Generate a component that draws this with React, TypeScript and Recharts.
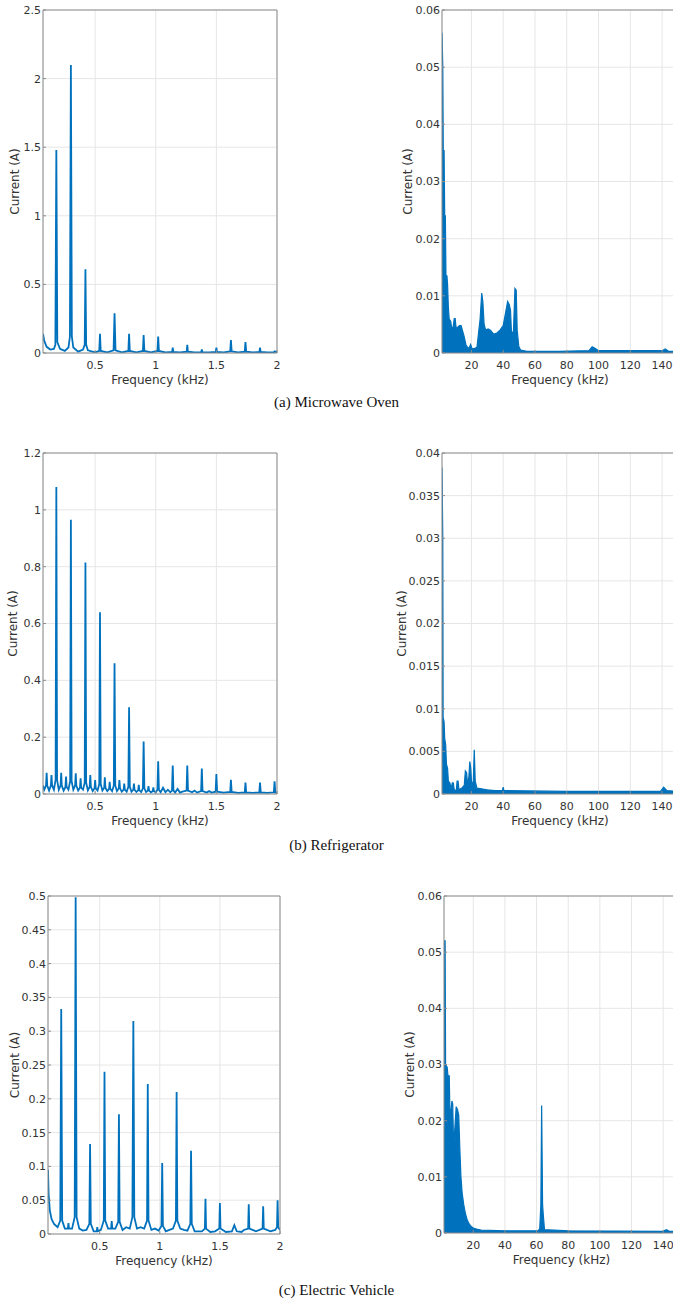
import React from "react";
import { LineChart, AreaChart, Line, Area, XAxis, YAxis, CartesianGrid } from "recharts";

type Pt = [number, number];

const LOW_TICKS = [0.5, 1, 1.5, 2];
const HIGH_TICKS = [20, 40, 60, 80, 100, 120, 140];
const OVEN_LOW_Y = [0, 0.5, 1, 1.5, 2, 2.5];
const OVEN_HIGH_Y = [0, 0.01, 0.02, 0.03, 0.04, 0.05, 0.06];
const FRIDGE_LOW_Y = [0, 0.2, 0.4, 0.6, 0.8, 1, 1.2];
const FRIDGE_HIGH_Y = [0, 0.005, 0.01, 0.015, 0.02, 0.025, 0.03, 0.035, 0.04];
const EV_LOW_Y = [0, 0.05, 0.1, 0.15, 0.2, 0.25, 0.3, 0.35, 0.4, 0.45, 0.5];
const EV_HIGH_Y = [0, 0.01, 0.02, 0.03, 0.04, 0.05, 0.06];

// (a) microwave oven, 0-2 kHz
const ovenLow: Pt[] = [
  [0.07, 0.14], [0.08, 0.09], [0.1, 0.045], [0.13, 0.025], [0.16, 0.03], [0.172, 0.06], [0.18, 1.48],
  [0.188, 0.08], [0.21, 0.03], [0.25, 0.015], [0.28, 0.04], [0.292, 0.12], [0.3, 2.1], [0.308, 0.12],
  [0.32, 0.04], [0.36, 0.01], [0.4, 0.025], [0.414, 0.06], [0.42, 0.61], [0.426, 0.06], [0.44, 0.02],
  [0.5, 0.005], [0.534, 0.015], [0.54, 0.14], [0.546, 0.015], [0.6, 0.005], [0.652, 0.02], [0.66, 0.29],
  [0.668, 0.02], [0.72, 0.005], [0.774, 0.015], [0.78, 0.14], [0.786, 0.015], [0.84, 0.005],
  [0.894, 0.015], [0.9, 0.13], [0.906, 0.015], [0.96, 0.005], [1.014, 0.015], [1.02, 0.12],
  [1.026, 0.015], [1.08, 0.004], [1.135, 0.008], [1.14, 0.04], [1.145, 0.008], [1.2, 0.004],
  [1.255, 0.01], [1.26, 0.06], [1.265, 0.01], [1.32, 0.004], [1.375, 0.006], [1.38, 0.025],
  [1.385, 0.006], [1.44, 0.004], [1.495, 0.008], [1.5, 0.04], [1.505, 0.008], [1.56, 0.004],
  [1.614, 0.012], [1.62, 0.095], [1.626, 0.012], [1.68, 0.004], [1.734, 0.01], [1.74, 0.08],
  [1.746, 0.01], [1.8, 0.004], [1.855, 0.008], [1.86, 0.04], [1.865, 0.008], [1.92, 0.004],
  [1.975, 0.004], [1.98, 0.012], [2.0, 0.005],
];

// (a) microwave oven, 2-150 kHz envelope
const ovenHigh: Pt[] = [
  [1.5, 0.056], [2.0, 0.05], [2.3, 0.035], [2.8, 0.0355], [3.2, 0.024], [3.6, 0.024], [4.0, 0.0135],
  [4.6, 0.0135], [5.0, 0.012], [5.5, 0.008], [6.0, 0.006], [7.0, 0.0055], [7.5, 0.0045], [8.5, 0.0045],
  [9.2, 0.006], [9.8, 0.006], [10.3, 0.0045], [11.5, 0.0045], [12.5, 0.0048], [13.5, 0.0048],
  [14.5, 0.0038], [15.5, 0.0028], [16.5, 0.0015], [17.5, 0.001], [18.5, 0.0008], [19.5, 0.0015],
  [20.5, 0.0007], [22, 0.0008], [23.5, 0.001], [24.5, 0.0035], [25.5, 0.006], [26.5, 0.0105],
  [27.2, 0.009], [28, 0.005], [29, 0.004], [30.5, 0.0042], [32, 0.004], [34, 0.0033], [36, 0.0035],
  [38, 0.004], [40, 0.0048], [41.5, 0.007], [42.8, 0.009], [43.8, 0.0085], [44.6, 0.0075],
  [45.3, 0.003], [46.5, 0.004], [47.4, 0.0113], [48.2, 0.011], [48.8, 0.004], [49.8, 0.0012],
  [51, 0.0005], [55, 0.0003], [75, 0.0003], [94, 0.0004], [96, 0.0011], [98, 0.0008], [100, 0.0004],
  [120, 0.0004], [140, 0.0004], [142, 0.0007], [144, 0.0003], [150, 0.0003],
];

// (b) refrigerator, 0-2 kHz
const fridgeLow: Pt[] = [
  [0.07, 0.03], [0.08, 0.015], [0.095, 0.03], [0.1, 0.075], [0.105, 0.03], [0.12, 0.012], [0.135, 0.03],
  [0.14, 0.067], [0.145, 0.03], [0.16, 0.015], [0.174, 0.05], [0.18, 1.08], [0.186, 0.05], [0.2, 0.015],
  [0.215, 0.03], [0.22, 0.075], [0.225, 0.03], [0.24, 0.012], [0.255, 0.025], [0.26, 0.061],
  [0.265, 0.025], [0.28, 0.015], [0.294, 0.045], [0.3, 0.965], [0.306, 0.045], [0.32, 0.015],
  [0.335, 0.03], [0.34, 0.073], [0.345, 0.03], [0.36, 0.012], [0.375, 0.022], [0.38, 0.055],
  [0.385, 0.022], [0.4, 0.015], [0.414, 0.04], [0.42, 0.815], [0.426, 0.04], [0.44, 0.013],
  [0.455, 0.025], [0.46, 0.067], [0.465, 0.025], [0.48, 0.01], [0.495, 0.02], [0.5, 0.049],
  [0.505, 0.02], [0.52, 0.012], [0.534, 0.035], [0.54, 0.64], [0.546, 0.035], [0.56, 0.012],
  [0.575, 0.022], [0.58, 0.059], [0.585, 0.022], [0.6, 0.01], [0.615, 0.018], [0.62, 0.043],
  [0.625, 0.018], [0.64, 0.01], [0.654, 0.03], [0.66, 0.46], [0.666, 0.03], [0.68, 0.01],
  [0.695, 0.02], [0.7, 0.049], [0.705, 0.02], [0.72, 0.008], [0.735, 0.015], [0.74, 0.037],
  [0.745, 0.015], [0.76, 0.008], [0.774, 0.025], [0.78, 0.305], [0.786, 0.025], [0.8, 0.008],
  [0.815, 0.015], [0.82, 0.037], [0.825, 0.015], [0.84, 0.007], [0.855, 0.013], [0.86, 0.032],
  [0.865, 0.013], [0.88, 0.007], [0.894, 0.02], [0.9, 0.185], [0.906, 0.02], [0.92, 0.007],
  [0.935, 0.012], [0.94, 0.028], [0.945, 0.012], [0.96, 0.006], [0.975, 0.01], [0.98, 0.023],
  [0.985, 0.01], [1.0, 0.006], [1.014, 0.015], [1.02, 0.115], [1.026, 0.015], [1.04, 0.006],
  [1.06, 0.022], [1.08, 0.006], [1.1, 0.015], [1.12, 0.006], [1.134, 0.012], [1.14, 0.1],
  [1.146, 0.012], [1.16, 0.005], [1.18, 0.018], [1.2, 0.005], [1.22, 0.008], [1.254, 0.012],
  [1.26, 0.1], [1.266, 0.012], [1.3, 0.006], [1.32, 0.012], [1.34, 0.005], [1.374, 0.01], [1.38, 0.09],
  [1.386, 0.01], [1.42, 0.005], [1.44, 0.01], [1.46, 0.005], [1.494, 0.008], [1.5, 0.07],
  [1.506, 0.008], [1.56, 0.005], [1.614, 0.007], [1.62, 0.05], [1.626, 0.007], [1.68, 0.004],
  [1.734, 0.006], [1.74, 0.04], [1.746, 0.006], [1.8, 0.004], [1.854, 0.006], [1.86, 0.04],
  [1.866, 0.006], [1.92, 0.004], [1.974, 0.006], [1.98, 0.045], [1.986, 0.006], [2.0, 0.004],
];

// (b) refrigerator, 2-150 kHz envelope
const fridgeHigh: Pt[] = [
  [1.5, 0.0383], [2.0, 0.03], [2.2, 0.009], [2.8, 0.0085], [3.2, 0.0065], [3.8, 0.0058], [4.3, 0.0035],
  [5, 0.003], [5.5, 0.0015], [6.5, 0.0013], [7.2, 0.0006], [8, 0.0013], [8.6, 0.0013], [9.2, 0.0005],
  [10.5, 0.0004], [11, 0.0015], [11.6, 0.0015], [12.2, 0.0005], [14, 0.0007], [15.5, 0.001],
  [16.2, 0.0027], [17, 0.0025], [17.6, 0.001], [18.4, 0.002], [19, 0.0038], [19.6, 0.003],
  [20.2, 0.001], [21.2, 0.0015], [21.8, 0.0052], [22.4, 0.0015], [23.5, 0.0007], [30, 0.0005],
  [35, 0.0004], [39.5, 0.0004], [40, 0.0008], [40.5, 0.0004], [80, 0.0003], [139, 0.0003],
  [141, 0.0008], [143, 0.0004], [150, 0.0003],
];

// (c) electric vehicle, 0-2 kHz
const evLow: Pt[] = [
  [0.07, 0.095], [0.075, 0.06], [0.085, 0.035], [0.1, 0.022], [0.12, 0.015], [0.15, 0.01], [0.172, 0.02],
  [0.18, 0.333], [0.188, 0.02], [0.21, 0.008], [0.235, 0.008], [0.24, 0.016], [0.245, 0.008],
  [0.27, 0.008], [0.292, 0.025], [0.3, 0.498], [0.308, 0.025], [0.33, 0.008], [0.36, 0.005],
  [0.39, 0.006], [0.414, 0.015], [0.42, 0.133], [0.426, 0.015], [0.45, 0.004], [0.475, 0.004],
  [0.48, 0.01], [0.485, 0.004], [0.51, 0.006], [0.534, 0.02], [0.54, 0.24], [0.546, 0.02],
  [0.57, 0.008], [0.595, 0.008], [0.6, 0.019], [0.605, 0.008], [0.63, 0.008], [0.654, 0.018],
  [0.66, 0.177], [0.666, 0.018], [0.69, 0.006], [0.72, 0.01], [0.75, 0.008], [0.772, 0.025],
  [0.78, 0.315], [0.788, 0.025], [0.81, 0.008], [0.84, 0.01], [0.87, 0.008], [0.894, 0.02],
  [0.9, 0.222], [0.906, 0.02], [0.93, 0.006], [0.96, 0.008], [0.99, 0.005], [1.014, 0.012],
  [1.02, 0.105], [1.026, 0.012], [1.05, 0.004], [1.08, 0.006], [1.11, 0.008], [1.134, 0.02],
  [1.14, 0.21], [1.146, 0.02], [1.17, 0.008], [1.2, 0.006], [1.23, 0.005], [1.254, 0.015],
  [1.26, 0.123], [1.266, 0.015], [1.29, 0.004], [1.32, 0.004], [1.35, 0.004], [1.375, 0.008],
  [1.38, 0.052], [1.385, 0.008], [1.42, 0.003], [1.46, 0.004], [1.495, 0.008], [1.5, 0.046],
  [1.505, 0.008], [1.55, 0.003], [1.6, 0.004], [1.62, 0.013], [1.64, 0.004], [1.68, 0.003],
  [1.7, 0.006], [1.735, 0.008], [1.74, 0.044], [1.745, 0.008], [1.8, 0.004], [1.855, 0.008],
  [1.86, 0.041], [1.865, 0.008], [1.92, 0.004], [1.96, 0.006], [1.975, 0.01], [1.98, 0.05],
  [1.985, 0.01], [2.0, 0.006],
];

// (c) electric vehicle, 2-150 kHz envelope
const evHigh: Pt[] = [
  [1.5, 0.052], [2.2, 0.052], [2.5, 0.03], [3.5, 0.0295], [4, 0.028], [4.8, 0.028], [5.2, 0.022],
  [5.8, 0.0215], [6.5, 0.0235], [7, 0.023], [7.6, 0.015], [8.2, 0.018], [9.2, 0.0225], [10, 0.022],
  [10.8, 0.021], [11.5, 0.015], [12.2, 0.01], [13, 0.007], [14, 0.005], [15, 0.0035], [16, 0.0025],
  [17, 0.0018], [18.5, 0.0012], [20, 0.0009], [22, 0.0007], [25, 0.0005], [40, 0.0004], [61, 0.0004],
  [62, 0.0008], [62.7, 0.005], [63.2, 0.0227], [63.8, 0.005], [64.3, 0.003], [65, 0.0006],
  [80, 0.0004], [140, 0.0003], [142, 0.0006], [144, 0.0003], [150, 0.0003],
];

const BLUE = "#0072BD";
const AXIS = "#8c8c8c";
const tickStyle = { fontSize: 11, fontFamily: "DejaVu Sans", fill: "#333" };
const labelStyle = { fontSize: 12, fontFamily: "DejaVu Sans", fill: "#333", textAnchor: "middle" as const };

interface PanelProps {
  left: number;
  top: number;
  plotW: number;
  plotH: number;
  yAxisW: number;
  labelOffset: number;
  data: Pt[];
  xDomain: [number, number];
  xTicks: number[];
  yTicks: number[];
  filled?: boolean;
}

function Panel({ left, top, plotW, plotH, yAxisW, labelOffset, data, xDomain, xTicks, yTicks, filled }: PanelProps) {
  const rows = data.map(([f, v]) => ({ f, v }));
  const width = yAxisW + plotW + 1 + 6;
  const height = 5 + plotH + 32 + 6;
  const yDomain: [number, number] = [yTicks[0], yTicks[yTicks.length - 1]];
  const Chart: any = filled ? AreaChart : LineChart;

  return (
    <div style={{ position: "absolute", left: left - yAxisW, top: top - 5 }}>
      <Chart width={width} height={height} data={rows} margin={{ top: 4, right: 6, bottom: 6, left: 0 }}>
        <CartesianGrid stroke="#e6e6e6" strokeWidth={1} />
        <XAxis
          dataKey="f"
          type="number"
          domain={xDomain}
          ticks={xTicks}
          allowDataOverflow
          interval={0}
          height={32}
          tickSize={-3}
          tickMargin={11}
          tick={tickStyle}
          stroke={AXIS}
          label={{ value: "Frequency (kHz)", position: "insideBottom", offset: 1, style: labelStyle }}
        />
        <XAxis
          xAxisId="top"
          orientation="top"
          dataKey="f"
          type="number"
          domain={xDomain}
          ticks={xTicks}
          allowDataOverflow
          interval={0}
          height={1}
          tickSize={-3}
          tick={false}
          stroke={AXIS}
        />
        <YAxis
          type="number"
          domain={yDomain}
          ticks={yTicks}
          allowDataOverflow
          interval={0}
          width={yAxisW}
          tickSize={-3}
          tickMargin={5}
          tick={tickStyle}
          stroke={AXIS}
          label={{ value: "Current (A)", angle: -90, position: "insideLeft", offset: labelOffset, style: labelStyle }}
        />
        <YAxis
          yAxisId="right"
          orientation="right"
          type="number"
          domain={yDomain}
          ticks={yTicks}
          allowDataOverflow
          interval={0}
          width={1}
          tickSize={-3}
          tick={false}
          stroke={AXIS}
        />
        {filled ? (
          <Area
            type="linear"
            dataKey="v"
            stroke={BLUE}
            strokeWidth={1.2}
            fill={BLUE}
            fillOpacity={1}
            dot={false}
            isAnimationActive={false}
          />
        ) : (
          <Line
            type="linear"
            dataKey="v"
            stroke={BLUE}
            strokeWidth={1.8}
            dot={false}
            isAnimationActive={false}
          />
        )}
      </Chart>
    </div>
  );
}

const captionStyle: React.CSSProperties = {
  position: "absolute",
  left: 0,
  width: 673,
  textAlign: "center",
  fontFamily: "Liberation Serif",
  fontSize: 15,
  color: "#111",
  lineHeight: "18px",
};

export default function App() {
  const LOW: [number, number] = [0.07, 2];
  const HIGH: [number, number] = [1.5, 150];
  return (
    <div
      style={{
        position: "absolute",
        left: 0,
        top: 0,
        width: 673,
        height: 1302,
        overflow: "hidden",
        background: "#fff",
      }}
    >
      <Panel left={43} top={10} plotW={234} plotH={343} yAxisW={43} labelOffset={15} data={ovenLow} xDomain={LOW} xTicks={LOW_TICKS} yTicks={OVEN_LOW_Y} />
      <Panel left={442} top={10} plotW={236} plotH={343} yAxisW={52} labelOffset={18} data={ovenHigh} xDomain={HIGH} xTicks={HIGH_TICKS} yTicks={OVEN_HIGH_Y} filled />
      <div style={{ ...captionStyle, top: 393 }}>(a) Microwave Oven</div>

      <Panel left={43} top={453} plotW={234} plotH={341} yAxisW={43} labelOffset={13} data={fridgeLow} xDomain={LOW} xTicks={LOW_TICKS} yTicks={FRIDGE_LOW_Y} />
      <Panel left={442} top={453} plotW={236} plotH={341} yAxisW={52} labelOffset={12} data={fridgeHigh} xDomain={HIGH} xTicks={HIGH_TICKS} yTicks={FRIDGE_HIGH_Y} filled />
      <div style={{ ...captionStyle, top: 836 }}>(b) Refrigerator</div>

      <Panel left={48} top={896} plotW={232} plotH={338} yAxisW={48} labelOffset={15} data={evLow} xDomain={LOW} xTicks={LOW_TICKS} yTicks={EV_LOW_Y} />
      <Panel left={444} top={896} plotW={235} plotH={337} yAxisW={54} labelOffset={20} data={evHigh} xDomain={HIGH} xTicks={HIGH_TICKS} yTicks={EV_HIGH_Y} filled />
      <div style={{ ...captionStyle, top: 1281 }}>(c) Electric Vehicle</div>
    </div>
  );
}
